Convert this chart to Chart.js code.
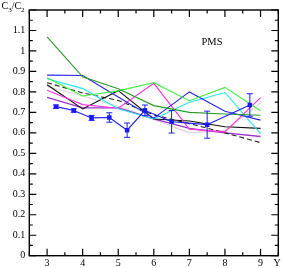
<!DOCTYPE html>
<html><head><meta charset="utf-8">
<script src="https://cdn.jsdelivr.net/npm/chart.js@4.4.0/dist/chart.umd.min.js"></script>
<style>html,body{margin:0;padding:0;background:#fff;overflow:hidden}#c{display:block}</style>
</head><body>
<canvas id="c" width="283" height="268"></canvas>
<script>
const rapidity = [3, 4, 5, 6, 7, 8, 9];
const darkGreen  = [1.069, 0.874, 0.815, 0.733, 0.700, 0.692, 0.686];
const lightGreen = [0.869, 0.780, 0.805, 0.845, 0.757, 0.822, 0.708];
const blueLine   = [0.882, 0.880, 0.775, 0.672, 0.800, 0.705, 0.662];
const cyanLine   = [0.864, 0.816, 0.718, 0.668, 0.749, 0.797, 0.596];
const magenta    = [0.808, 0.738, 0.720, 0.842, 0.618, 0.605, 0.772];
const purple     = [0.773, 0.722, 0.722, 0.668, 0.622, 0.600, 0.582];
const blackLine  = [0.835, 0.717, 0.806, 0.668, 0.658, 0.630, 0.622];
const dashedLine = [0.845, 0.795, 0.758, 0.688, 0.645, 0.600, 0.552];
const lightGray  = [0.826, 0.780, 0.730, 0.665, 0.600, 0.612, 0.745];

const measX   = [3.25, 3.75, 4.25, 4.75, 5.25, 5.75, 6.5, 7.5, 8.7];
const measY   = [0.728, 0.709, 0.673, 0.675, 0.613, 0.710, 0.654, 0.640, 0.736];
const measErr = [0.008, 0.008, 0.012, 0.023, 0.035, 0.026, 0.055, 0.066, 0.055];

const xTicks = [3, 4, 5, 6, 7, 8, 9];
const yTicks = [0, 0.1, 0.2, 0.3, 0.4, 0.5, 0.6, 0.7, 0.8, 0.9, 1, 1.1];

const FONT = "'Liberation Serif', 'DejaVu Serif', serif";
const pts = arr => rapidity.map((x, i) => ({x: x, y: arr[i]}));
function line(arr, color, extra) {
  return Object.assign({data: pts(arr), borderColor: color, borderWidth: 1.1, pointRadius: 0, fill: false, tension: 0}, extra || {});
}

const frameAndTicks = {
  id: 'frameAndTicks',
  afterDatasetsDraw(chart) {
    const ctx = chart.ctx, a = chart.chartArea, xs = chart.scales.x, ys = chart.scales.y;
    // error bars
    ctx.save();
    ctx.strokeStyle = '#1a1aff'; ctx.lineWidth = 1;
    measX.forEach((x, i) => {
      const px = xs.getPixelForValue(x);
      const t = ys.getPixelForValue(measY[i] + measErr[i]);
      const b = ys.getPixelForValue(measY[i] - measErr[i]);
      ctx.beginPath();
      ctx.moveTo(px, t); ctx.lineTo(px, b);
      ctx.moveTo(px - 3, t); ctx.lineTo(px + 3, t);
      ctx.moveTo(px - 3, b); ctx.lineTo(px + 3, b);
      ctx.stroke();
    });
    ctx.restore();
    // frame
    ctx.save();
    ctx.strokeStyle = '#000'; ctx.lineWidth = 1.4;
    ctx.strokeRect(a.left, a.top, a.right - a.left, a.bottom - a.top);
    ctx.lineWidth = 1.2;
    ctx.beginPath();
    for (let v = 2.5; v <= 9.5001; v += 0.5) {
      const px = xs.getPixelForValue(v);
      const major = Math.abs(v - Math.round(v)) < 1e-6;
      const L = major ? 7 : 3.5;
      ctx.moveTo(px, a.bottom); ctx.lineTo(px, a.bottom - L);
      ctx.moveTo(px, a.top); ctx.lineTo(px, a.top + L);
    }
    for (let k = 0; k <= 24; k++) {
      const v = k * 0.05;
      const py = ys.getPixelForValue(v);
      const major = k % 2 === 0;
      const L = major ? 7 : 3.5;
      ctx.moveTo(a.left, py); ctx.lineTo(a.left + L, py);
      ctx.moveTo(a.right, py); ctx.lineTo(a.right - L, py);
    }
    ctx.stroke();
    // texts
    ctx.fillStyle = '#000';
    ctx.textBaseline = 'alphabetic';
    ctx.font = '10.5px ' + FONT;
    ctx.textAlign = 'center';
    ctx.fillText('PMS', 212, 45);
    ctx.textAlign = 'left';
    ctx.font = '10px ' + FONT;
    ctx.fillText('Y', 273.5, 266);
    let x0 = 1.5;
    const big = '10px ' + FONT, small = '7px ' + FONT;
    ctx.font = big; ctx.fillText('C', x0, 9); x0 += ctx.measureText('C').width;
    ctx.font = small; ctx.fillText('3', x0, 11.5); x0 += ctx.measureText('3').width;
    ctx.font = big; ctx.fillText('/', x0, 9); x0 += ctx.measureText('/').width;
    ctx.fillText('C', x0, 9); x0 += ctx.measureText('C').width;
    ctx.font = small; ctx.fillText('2', x0, 11.5);
    ctx.restore();
  }
};

new Chart(document.getElementById('c'), {
  type: 'line',
  data: {
    datasets: [
      {data: measX.map((x, i) => ({x: x, y: measY[i]})), borderColor: '#1a1aff', backgroundColor: '#1a1aff',
       borderWidth: 1.1, pointStyle: 'rect', pointRadius: 3.2, pointBorderWidth: 0, fill: false, tension: 0},
      line(darkGreen, '#2a9a2a'),
      line(lightGreen, '#44ee44'),
      line(blueLine, '#2626ee'),
      line(cyanLine, '#22e8f2'),
      line(magenta, '#ff33dd'),
      line(blackLine, '#111111'),
      line(dashedLine, '#222222', {borderDash: [5, 3]}),
      line(purple, '#9933cc', {borderWidth: 1.4}),
      line(lightGray, '#dcd0dc')
    ]
  },
  options: {
    responsive: false,
    animation: false,
    devicePixelRatio: 1,
    layout: {padding: {top: 5, right: 4.7, left: 0, bottom: 0}},
    plugins: {legend: {display: false}, tooltip: {enabled: false}},
    scales: {
      x: {
        type: 'linear', min: 2.5, max: 9.5,
        afterBuildTicks: s => { s.ticks = xTicks.map(v => ({value: v})); },
        afterFit: s => { s.height = 12.3; },
        grid: {display: false, drawTicks: false}, border: {display: false},
        ticks: {padding: 1.5, color: '#000', font: {family: FONT, size: 10}, maxRotation: 0, autoSkip: false}
      },
      y: {
        type: 'linear', min: 0, max: 1.2,
        afterBuildTicks: s => { s.ticks = yTicks.map(v => ({value: v})); },
        afterFit: s => { s.width = 29.3; },
        grid: {display: false, drawTicks: false}, border: {display: false},
        ticks: {padding: 4, color: '#000', font: {family: FONT, size: 10}, autoSkip: false,
                callback: v => String(Math.round(v * 10) / 10)}
      }
    }
  },
  plugins: [frameAndTicks]
});
</script>
</body></html>
